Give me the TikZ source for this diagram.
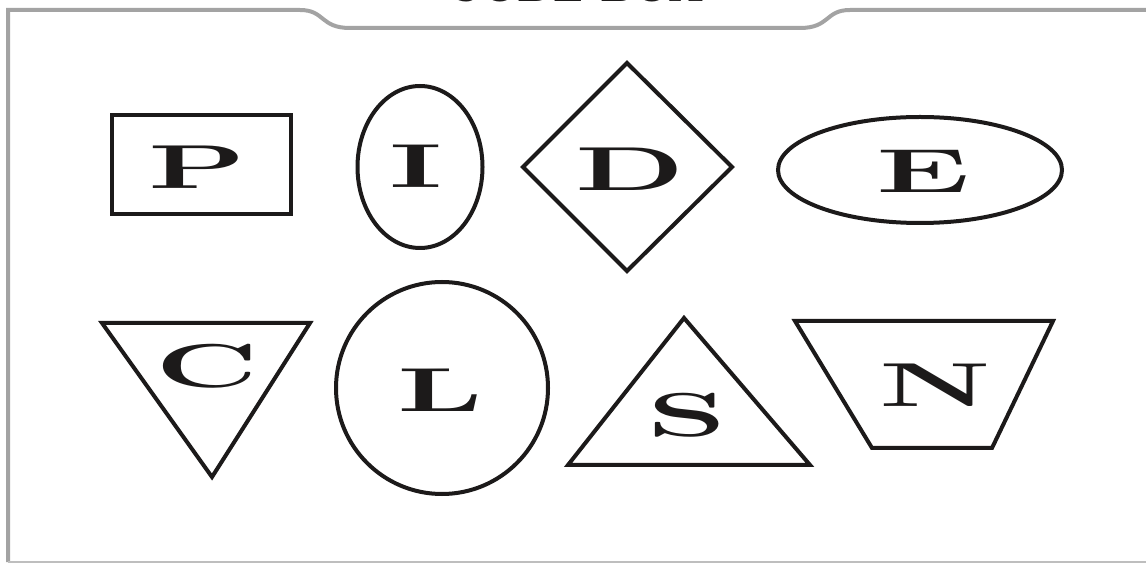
\documentclass[tikz,border=0pt]{standalone}
\usepackage{fontspec}
\usepackage{tikz}
\usetikzlibrary{calc}
\definecolor{frame}{HTML}{A3A3A3}
\definecolor{ink}{HTML}{1C1A1A}
\def\wide#1{\scalebox{2.05}[1]{#1}}

\begin{document}
\begin{tikzpicture}[x=0.5pt,y=-0.5pt,
    outline/.style={draw=ink,line width=2pt},
    letter/.style={inner sep=0pt,text=ink,
      font=\fontsize{31}{31}\selectfont\bfseries\addfontfeature{FakeBold=1.2}}]
  \useasboundingbox (0,0) rectangle (1146,566);
  % frame with the title tab
  \draw[frame,line width=2pt] (1150,10) -- (850,10)
    .. controls (825,10) and (830,28) .. (800,28) -- (350,28)
    .. controls (320,28) and (325,10) .. (300,10) -- (8,10) -- (8,562);
  \draw[frame!70,line width=0.6pt] (8,562) -- (1150,562);
  \node[inner sep=0pt,anchor=base,text=ink,
    font=\fontsize{21}{21}\selectfont\bfseries\addfontfeature{FakeBold=1.2}]
    (title) at (576,2) {CODE BOX};
  % top row
  \draw[outline] (112,115) rectangle (291,214);
  \node[letter] (P) at (197,167.5) {\wide{P}};
  \draw[outline] (420,167) ellipse [x radius=62.5,y radius=81];
  \node[letter] (I) at (416,166) {\wide{I}};
  \draw[outline] (627,63) -- (732,167) -- (627,271) -- (523,167) -- cycle;
  \node[letter] (D) at (630,169.5) {\wide{D}};
  \draw[outline] (920,170) ellipse [x radius=142,y radius=53];
  \node[letter] (E) at (923,171) {\wide{E}};
  % bottom row
  \draw[outline] (102,323) -- (310,323) -- (212,477) -- cycle;
  \node[letter] (C) at (207,366) {\wide{C}};
  \draw[outline] (442,388) circle [radius=106];
  \node[letter] (L) at (440,390) {\wide{L}};
  \draw[outline] (684,318) -- (810,465) -- (568,465) -- cycle;
  \node[letter] (S) at (687,415.5) {\wide{S}};
  \draw[outline] (795,321) -- (1053,321) -- (992,448) -- (872,448) -- cycle;
  \node[letter] (N) at (935,385) {\wide{N}};
\end{tikzpicture}
\end{document}
